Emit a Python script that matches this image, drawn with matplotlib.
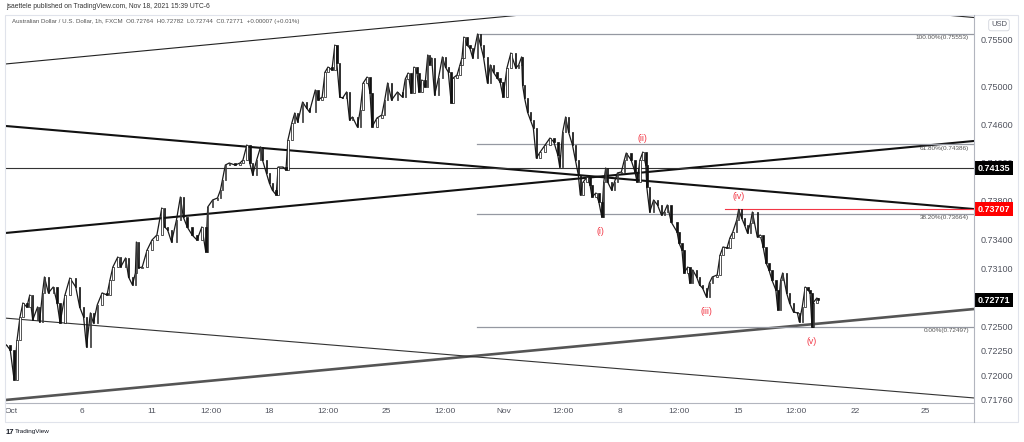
import numpy as np
import pandas as pd
import matplotlib
matplotlib.use("Agg")
import matplotlib.pyplot as plt
from matplotlib.transforms import blended_transform_factory
from matplotlib.patches import Rectangle
from matplotlib.lines import Line2D
import matplotlib.ticker as mticker

plt.rcParams['font.family'] = ['Liberation Sans', 'DejaVu Sans']

# ---------------- data (AUD/USD 1h, FXCM) ----------------
# trading-hour index counted from 2021-10-01 00:00 (UTC-6), weekends skipped
bar_hour = [-5, -1, 3, 6, 9, 12, 16, 19, 22, 27, 29, 32, 34, 38, 43, 47, 50, 55, 60, 66,
            70, 74, 77, 81, 84, 88, 93, 98, 101, 104, 109, 112, 117, 120, 124, 127, 128, 130,
            134, 139, 144, 149, 154, 157, 160, 164, 169, 173, 176, 180, 185, 190, 195, 199,
            201, 206, 211, 214, 216, 219, 223, 229, 234, 237, 241, 244, 247, 251, 255, 257,
            261, 264, 267, 271, 273, 278, 281, 283, 287, 290, 293, 298, 302, 305, 311, 314,
            318, 321, 324, 328, 331, 333, 336, 339, 343, 346, 349, 354, 357, 360, 364, 367,
            369, 374, 379, 382, 385, 389, 395, 400, 403, 406, 409, 412, 415, 417, 420, 423,
            426, 428, 430, 433, 437, 441, 444, 447, 450, 452, 456, 459, 461, 463, 466, 469,
            472, 477, 480, 483, 487, 490, 493, 497, 500, 503, 507, 511, 516, 519, 522, 523,
            525, 528, 531, 534, 537, 541, 546, 551, 555, 559, 561, 564, 567, 570, 574, 577,
            580, 582, 585, 589, 592, 594, 598, 601, 604, 606, 608, 610, 614, 617, 620, 624,
            627, 629, 634, 638, 640, 643, 646, 649, 650, 653, 657, 661, 665, 668, 671, 675,
            681, 683, 686, 688, 692, 694, 697, 701, 704, 707, 711, 714, 717, 722, 725, 728,
            732, 735, 738, 742, 744, 747, 750, 753, 756, 758, 763, 766, 769, 772, 775, 778,
            782, 784, 787, 789, 793, 796, 800, 804, 806, 809, 812, 815, 817, 819, 820, 824, 825]
close_price = [0.72312, 0.72261, 0.71956, 0.72363, 0.72598, 0.72741, 0.72700, 0.72823, 0.72567, 0.72700,
               0.72547, 0.72844, 0.73008, 0.72844, 0.72905, 0.72741, 0.72536, 0.72823, 0.72998, 0.72905,
               0.72700, 0.72598, 0.72291, 0.72639, 0.72536, 0.72721, 0.72844, 0.72823, 0.72977, 0.73111,
               0.73214, 0.73111, 0.73204, 0.73008, 0.72926, 0.73049, 0.73369, 0.73101,
               0.73111, 0.73286, 0.73390, 0.73442, 0.73722, 0.73525, 0.73493, 0.73369, 0.73597, 0.73836,
               0.73628, 0.73525, 0.73442, 0.73390, 0.73525, 0.73266, 0.73732, 0.73805, 0.73826, 0.73909,
               0.74013, 0.74170, 0.74191, 0.74170, 0.74191, 0.74222, 0.74380, 0.74191, 0.74066, 0.74222,
               0.74359, 0.74222, 0.74087, 0.73982, 0.73909, 0.73857, 0.74149, 0.74149, 0.74118, 0.74432,
               0.74611, 0.74716, 0.74621, 0.74832, 0.74769, 0.74727, 0.74959, 0.74853, 0.74885, 0.75149,
               0.75202, 0.75171, 0.75436, 0.75245, 0.74885, 0.74875, 0.74938, 0.74642, 0.74674, 0.74569,
               0.74748, 0.75033, 0.75096, 0.74927, 0.74569, 0.74663, 0.74695, 0.74853, 0.75033, 0.74853,
               0.74938, 0.74885, 0.75075, 0.75139, 0.74927, 0.75202, 0.75139, 0.74938, 0.75065, 0.74991,
               0.75330, 0.75224, 0.75298, 0.74906, 0.75086, 0.75309, 0.75202, 0.75149, 0.74822, 0.75086,
               0.75118, 0.75224, 0.75298, 0.75521, 0.75436, 0.75404, 0.75298, 0.75553, 0.75436, 0.75309,
               0.75033, 0.75224, 0.75149, 0.75086, 0.75043, 0.74885, 0.75192, 0.75351, 0.75192, 0.75224,
               0.75309, 0.75012, 0.74875, 0.74727, 0.74642, 0.74558, 0.74243, 0.74306, 0.74380, 0.74453,
               0.74411, 0.74275, 0.74149, 0.74516, 0.74674, 0.74516, 0.74380, 0.74222, 0.74066, 0.73857,
               0.73993, 0.74045, 0.73961, 0.73836, 0.73878, 0.73784, 0.73628, 0.73993, 0.74139, 0.73993,
               0.73909, 0.73993, 0.74087, 0.74097, 0.74222, 0.74296, 0.74222, 0.74097, 0.73993, 0.74222,
               0.74306, 0.74170, 0.73940, 0.73680, 0.73805, 0.73753, 0.73649, 0.73680, 0.73753, 0.73576,
               0.73473, 0.73359, 0.73286, 0.73049, 0.73111, 0.72946, 0.73080, 0.73008, 0.72926, 0.72895,
               0.72803, 0.72946, 0.73008, 0.73029, 0.73235, 0.73318, 0.73307, 0.73411, 0.73473, 0.73597,
               0.73707, 0.73618, 0.73545, 0.73462, 0.73566, 0.73680, 0.73421, 0.73442, 0.73318, 0.73152,
               0.73080, 0.72977, 0.72874, 0.72669, 0.72977, 0.73049, 0.72844, 0.72741, 0.72649, 0.72639,
               0.72547, 0.72700, 0.72905, 0.72874, 0.72844, 0.72497, 0.72741, 0.72792, 0.72771]

price_ticks = [0.71760, 0.72000, 0.72250, 0.72500, 0.73100, 0.73400, 0.73800, 0.74200, 0.74600, 0.75000, 0.75500]
time_tick_labels = ["Oct", "6", "11", "12:00", "18", "12:00", "25", "12:00", "Nov", "12:00",
                    "8", "12:00", "15", "12:00", "22", "25"]
time_tick_times = ["2021-10-01 00:00", "2021-10-06 00:00", "2021-10-11 00:00", "2021-10-13 12:00",
                   "2021-10-18 00:00", "2021-10-20 12:00", "2021-10-25 00:00", "2021-10-27 12:00",
                   "2021-11-01 00:00", "2021-11-03 12:00", "2021-11-08 00:00", "2021-11-10 12:00",
                   "2021-11-15 00:00", "2021-11-17 12:00", "2021-11-22 00:00", "2021-11-25 00:00"]

# drawn trend lines: (bar0, price0, bar1, price1)
upper_rising = (-6.3, 0.75234, 704.4, 0.75938)
top_right = (909.1, 0.75799, 984.7, 0.75729)
thick_falling = (-6.3, 0.74580, 984.7, 0.73711)
thick_rising = (-6.3, 0.73462, 984.7, 0.74422)
lower_rising = (-6.3, 0.71752, 984.7, 0.72679)
lower_falling = (-6.3, 0.72586, 984.7, 0.71773)
level_black = 0.74135
level_red = 0.73707
level_red_start = 730
fib_levels = [0.75553, 0.74386, 0.73664, 0.72497]
fib_labels = ["100.00%(0.75553)", "61.80%(0.74386)", "38.20%(0.73664)", "0.00%(0.72497)"]
fib_start = 476
last_price = 0.72771
wave_labels = ["(i)", "(ii)", "(iii)", "(iv)", "(v)"]
wave_bars = [603, 646, 711, 744, 819]
wave_prices = [0.73628, 0.74306, 0.72803, 0.73707, 0.72497]
wave_above = [False, True, False, True, False]

# ---------------- time axis (trading hours only) ----------------
hours = pd.date_range("2021-10-01 00:00", "2021-11-27 00:00", freq="h")
def is_open(t):
    cut = 15 if t < pd.Timestamp("2021-11-07") else 16
    wd = t.weekday()
    if wd == 5:
        return False
    if wd == 4 and t.hour >= cut:
        return False
    if wd == 6 and t.hour < cut:
        return False
    return True
open_hours = [t for t in hours if is_open(t)]
index_of = {t: i for i, t in enumerate(open_hours)}
tick_pos = [index_of[pd.Timestamp(s)] for s in time_tick_times]

# ---------------- figure ----------------
W, H = 1024, 442
fig = plt.figure(figsize=(W / 100, H / 100), dpi=100)
L, R, T, B = 5, 974, 15, 403
ax = fig.add_axes([L / W, 1 - B / H, (R - L) / W, (B - T) / H])
ax.set_yscale('log')
ax.set_xlim(-6.34, 984.66)
ax.set_ylim(0.71722, 0.75756)

for s in ['left', 'top', 'right']:
    ax.spines[s].set_visible(False)
ax.spines['bottom'].set_color('#b2b5be')
ax.spines['bottom'].set_linewidth(0.8)

# candles (open = previous close)
bh = np.array(bar_hour, dtype=float)
cp = np.array(close_price)
op = np.concatenate([[cp[0]], cp[:-1]])
lo = np.minimum(op, cp)
hi = np.maximum(op, cp)
hi = np.where(hi - lo < 1e-5, lo + 1e-5, hi)
up = cp >= op
ax.plot(bh, cp, color='#1a1a1a', lw=0.9, zorder=3)
ax.bar(bh[up], hi[up] - lo[up], bottom=lo[up], width=1.5, color='white',
       edgecolor='#111111', linewidth=0.5, zorder=4)
ax.bar(bh[~up], hi[~up] - lo[~up], bottom=lo[~up], width=1.5, color='#111111',
       edgecolor='#111111', linewidth=0.5, zorder=4)

def seg(s, **kw):
    ax.plot([s[0], s[2]], [s[1], s[3]], solid_capstyle='butt', **kw)

seg(upper_rising, color='#222222', lw=0.8, zorder=2)
seg(top_right, color='#222222', lw=0.8, zorder=2)
seg(thick_falling, color='#111111', lw=1.5, zorder=2)
seg(thick_rising, color='#111111', lw=1.5, zorder=2)
seg(lower_rising, color='#555555', lw=1.9, zorder=2)
seg(lower_falling, color='#333333', lw=0.8, zorder=2)

xl = ax.get_xlim()
ax.plot(xl, [level_black, level_black], color='#333333', lw=0.8, zorder=2)
ax.plot([level_red_start, xl[1]], [level_red, level_red], color='#f23645', lw=0.8, zorder=2)
for lvl, lab in zip(fib_levels, fib_labels):
    ax.plot([fib_start, xl[1]], [lvl, lvl], color='#9598a1', lw=0.9, zorder=2)
    ax.annotate(lab, (979.6, lvl), xytext=(0, -1), textcoords='offset points',
                ha='right', va='top', fontsize=4.6, color='#555555', zorder=5)

for lab, b, p, above in zip(wave_labels, wave_bars, wave_prices, wave_above):
    ax.annotate(lab, (b, p), xytext=(0, 9.5 if above else -10.5), textcoords='offset points',
                ha='center', va='center', fontsize=6.3, color='#f23645', zorder=6)

# axes ticks
ax.yaxis.tick_right()
ax.yaxis.set_minor_locator(mticker.NullLocator())
ax.yaxis.set_minor_formatter(mticker.NullFormatter())
ax.set_yticks(price_ticks)
ax.set_yticklabels([f"{v:.5f}" for v in price_ticks])
ax.tick_params(axis='y', length=0, pad=4.5, labelsize=6.5, labelcolor='#50535e')
ax.set_xticks(tick_pos)
ax.set_xticklabels(time_tick_labels)
ax.tick_params(axis='x', length=0, pad=3.5, labelsize=6, labelcolor='#50535e')

# price tags on the axis
btr = blended_transform_factory(ax.transAxes, ax.transData)
for val, col in [(level_black, 'black'), (level_red, '#ff0000'), (last_price, 'black')]:
    ax.text(1.0036, val, f"{val:.5f}", transform=btr, ha='left', va='center', fontsize=6.5,
            color='white', fontweight='bold', clip_on=False, zorder=10,
            bbox=dict(boxstyle='square,pad=0.28', fc=col, ec='none'))
ax.text((999 - L) / (R - L), (B - 25) / (B - T), "USD", transform=ax.transAxes, ha='center',
        va='center', fontsize=5.5, color='#50535e', clip_on=False, zorder=10,
        bbox=dict(boxstyle='round,pad=0.3,rounding_size=0.3', fc='white', ec='#d1d4dc', lw=0.6))

# frame
fig.add_artist(Rectangle((5 / W, 1 - 422 / H), (1018 - 5) / W, (422 - 15) / H,
                         transform=fig.transFigure, fill=False, ec='#e0e3eb', lw=0.8))
fig.add_artist(Line2D([R / W, R / W], [1 - 15 / H, 1 - 422 / H], transform=fig.transFigure,
                      color='#b2b5be', lw=0.8))

# header / footer texts
fig.text(6 / W, 1 - 7 / H, "jsaettele published on TradingView.com, Nov 18, 2021 15:39 UTC-6",
         fontsize=4.9, color='#333333', va='center', ha='left')
fig.text(12 / W, 1 - 21 / H,
         "Australian Dollar / U.S. Dollar, 1h, FXCM  O0.72764  H0.72782  L0.72744  C0.72771  +0.00007 (+0.01%)",
         fontsize=4.4, color='#555555', va='center', ha='left')
fig.text(6 / W, 1 - 432 / H, "17", fontsize=5.5, fontweight='bold', color='#131722', va='center')
fig.text(15 / W, 1 - 432 / H, "TradingView", fontsize=4.6, color='#131722', va='center')

fig.savefig("out.png", dpi=100)
